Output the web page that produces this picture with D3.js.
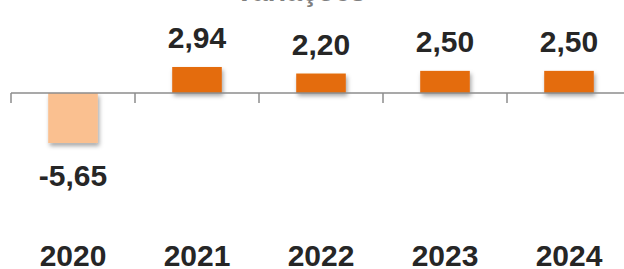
<!DOCTYPE html>
<html lang="pt">
<head>
<meta charset="utf-8">
<title>Variações</title>
<script src="https://d3js.org/d3.v7.min.js"></script>
<style>
  body { margin: 0; background: #fff; }
  svg text { font-family: "Liberation Sans", Arial, sans-serif; font-weight: bold; }
</style>
</head>
<body>
<svg width="624" height="269"></svg>
<script>
// data
var anos = ["2020", "2021", "2022", "2023", "2024"];
var valores = [-5.65, 2.94, 2.20, 2.50, 2.50];
var titulo = "Variações";

var svg = d3.select("svg");

// drop shadow under the bars
var defs = svg.append("defs");
defs.append("filter")
    .attr("id", "sombra")
    .attr("x", "-20%").attr("y", "-20%")
    .attr("width", "150%").attr("height", "160%")
  .append("feDropShadow")
    .attr("dx", 1.5).attr("dy", 3)
    .attr("stdDeviation", 2)
    .attr("flood-color", "#000")
    .attr("flood-opacity", 0.35);

// title, mostly cut off at the top
svg.append("text")
   .attr("x", 235)
   .attr("y", 0.5)
   .attr("font-size", "28px")
   .attr("fill", "#7f7f7f")
   .text(titulo);

var xScale = d3.scaleBand().domain(anos).range([11, 631]).padding(0),
    yScale = d3.scaleLinear().domain([-6, 3]).range([93 + 6 * 8.85, 93 - 3 * 8.85]);

// comma decimals, plain hyphen for the minus
var fmt = function(v) { return d3.format(".2f")(v).replace("\u2212", "-").replace(".", ","); };

// bars
svg.selectAll(".bar")
   .data(valores)
   .enter().append("rect")
   .attr("class", "bar")
   .attr("x", function(d, i) { return xScale(anos[i]) + xScale.bandwidth() * 0.3; })
   .attr("width", xScale.bandwidth() * 0.4)
   .attr("y", function(d) { return yScale(Math.max(0, d)); })
   .attr("height", function(d) { return Math.abs(yScale(d) - yScale(0)); })
   .attr("fill", function(d) { return d < 0 ? "#FAC090" : "#E46C0A"; })
   .attr("filter", "url(#sombra)");

// axis line + ticks
var eixo = svg.append("g")
   .attr("transform", "translate(0," + yScale(0) + ")");
eixo.append("line")
   .attr("x1", 11).attr("x2", 624)
   .attr("stroke", "#8c8c8c").attr("stroke-width", 1.5);
eixo.selectAll(".tick")
   .data(anos)
   .enter().append("line")
   .attr("x1", function(d) { return xScale(d); })
   .attr("x2", function(d) { return xScale(d); })
   .attr("y1", 0).attr("y2", 10)
   .attr("stroke", "#8c8c8c").attr("stroke-width", 1.5);

// value labels
svg.selectAll(".valor")
   .data(valores)
   .enter().append("text")
   .attr("class", "valor")
   .attr("x", function(d, i) { return xScale(anos[i]) + xScale.bandwidth() / 2; })
   .attr("y", function(d) { return d < 0 ? yScale(d) + 43 : yScale(d) - 19; })
   .attr("text-anchor", "middle")
   .attr("font-size", "30px")
   .attr("fill", "#262626")
   .text(fmt);

// year labels
svg.selectAll(".ano")
   .data(anos)
   .enter().append("text")
   .attr("class", "ano")
   .attr("x", function(d) { return xScale(d) + xScale.bandwidth() / 2; })
   .attr("y", 266)
   .attr("text-anchor", "middle")
   .attr("font-size", "30px")
   .attr("fill", "#262626")
   .text(function(d) { return d; });
</script>
</body>
</html>
